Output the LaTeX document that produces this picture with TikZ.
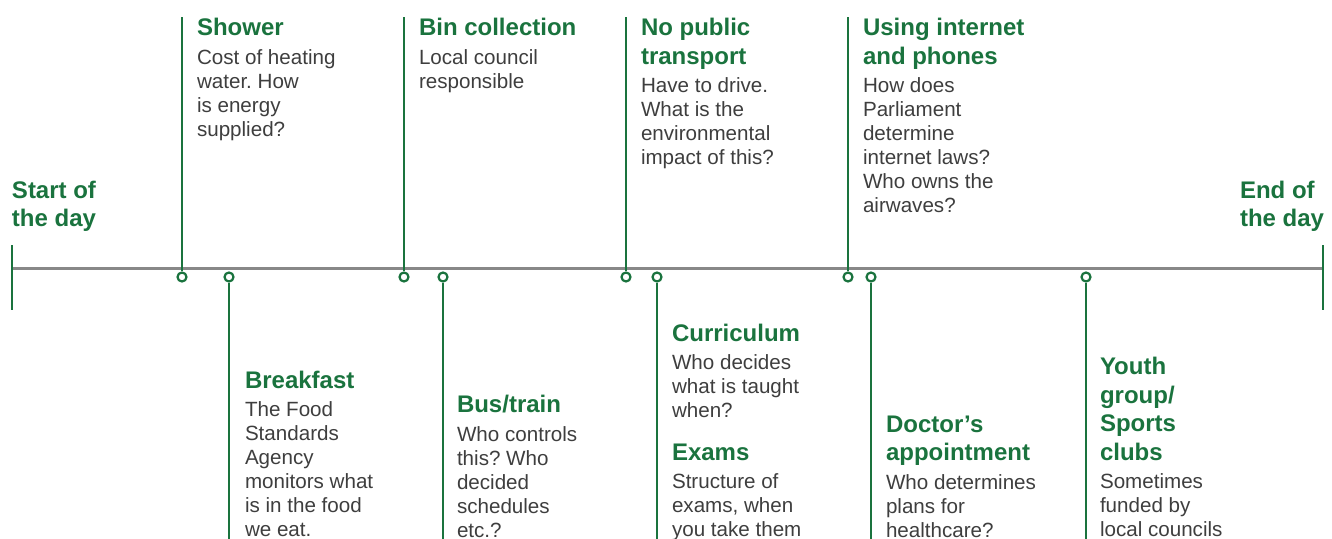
\documentclass[tikz,border=0pt]{standalone}
\usepackage{fontspec}
\setmainfont{Liberation Sans}
\frenchspacing
\definecolor{hgreen}{RGB}{26,115,62}
\definecolor{tgray}{RGB}{62,62,62}
\definecolor{lgray}{RGB}{136,136,136}
\newcommand{\evtblock}[2]{\parbox[t]{240pt}{\raggedright\frenchspacing\leavevmode\color{hgreen}\fontsize{24}{28.5}\selectfont\bfseries #1\par\vspace{4.5pt}\leavevmode\color{tgray}\fontsize{20.6}{24}\selectfont\mdseries #2}}
\newcommand{\headonly}[1]{\parbox[t]{240pt}{\raggedright\leavevmode\color{hgreen}\fontsize{24}{28.5}\selectfont\bfseries #1}}
\tikzset{
  marker/.style={circle,draw=hgreen,line width=2.2pt,fill=white,inner sep=0pt,minimum size=9pt},
  stem/.style={draw=hgreen,line width=1.8pt},
  tick/.style={draw=hgreen,line width=2pt},
  axis/.style={draw=lgray,line width=2.4pt},
  evt/.style={anchor=base west,inner sep=0pt,outer sep=0pt}
}
\begin{document}
\begin{tikzpicture}[x=1pt,y=-1pt]
\useasboundingbox (0,0) rectangle (1332,538);
\clip (0,0) rectangle (1332,538);
% axis and end ticks
\coordinate (s1) at (12,245);
\coordinate (s2) at (12,310);
\coordinate (e1) at (1322.5,245);
\coordinate (e2) at (1322.5,310);
\coordinate (a1) at (12,268.5);
\coordinate (a2) at (1322.5,268.5);
\draw[axis] (a1) -- (a2);
\draw[tick] (s1) -- (s2);
\draw[tick] (e1) -- (e2);
% start / end labels
\node[evt] (start) at (12,198) {\headonly{Start of\\the day}};
\node[evt] (end) at (1240,198) {\headonly{End of\\the day}};
% upper events
\coordinate (u1) at (182,17);
\coordinate (u2) at (404,17);
\coordinate (u3) at (626,17);
\coordinate (u4) at (848,17);
\node[marker] (m1) at (182,277) {};
\node[marker] (m3) at (404,277) {};
\node[marker] (m5) at (626,277) {};
\node[marker] (m7) at (848,277) {};
\draw[stem] (m1.north) -- (u1);
\draw[stem] (m3.north) -- (u2);
\draw[stem] (m5.north) -- (u3);
\draw[stem] (m7.north) -- (u4);
% lower events
\coordinate (d1) at (229,545);
\coordinate (d2) at (443,545);
\coordinate (d3) at (657,545);
\coordinate (d4) at (871,545);
\coordinate (d5) at (1086,545);
\node[marker] (m2) at (229,277) {};
\node[marker] (m4) at (443,277) {};
\node[marker] (m6) at (657,277) {};
\node[marker] (m8) at (871,277) {};
\node[marker] (m9) at (1086,277) {};
\draw[stem] (m2.south) -- (d1);
\draw[stem] (m4.south) -- (d2);
\draw[stem] (m6.south) -- (d3);
\draw[stem] (m8.south) -- (d4);
\draw[stem] (m9.south) -- (d5);
% texts
\node[evt] (shower) at (197,35.5) {\evtblock{Shower}{Cost of heating\\water. How\\is energy\\supplied?}};
\node[evt] (bin) at (419,35.5) {\evtblock{Bin collection}{Local council\\responsible}};
\node[evt] (transport) at (641,35.5) {\evtblock{No public\\transport}{Have to drive.\\What is the\\environmental\\impact of this?}};
\node[evt] (internet) at (863,35.5) {\evtblock{Using internet\\and phones}{How does\\Parliament\\determine\\internet laws?\\Who owns the\\airwaves?}};
\node[evt] (breakfast) at (245,388) {\evtblock{Breakfast}{The Food\\Standards\\Agency\\monitors what\\is in the food\\we eat.}};
\node[evt] (bus) at (457,412.5) {\evtblock{Bus/train}{Who controls\\this? Who\\decided\\schedules\\etc.?}};
\node[evt] (curriculum) at (672,341) {\evtblock{Curriculum}{Who decides\\what is taught\\when?}};
\node[evt] (exams) at (672,460) {\evtblock{Exams}{Structure of\\exams, when\\you take them}};
\node[evt] (doctor) at (886,432) {\evtblock{Doctor’s\\appointment}{Who determines\\plans for\\healthcare?}};
\node[evt] (youth) at (1100,374.5) {\evtblock{Youth\\group/\\Sports\\clubs}{Sometimes\\funded by\\local councils}};
\end{tikzpicture}
\end{document}
